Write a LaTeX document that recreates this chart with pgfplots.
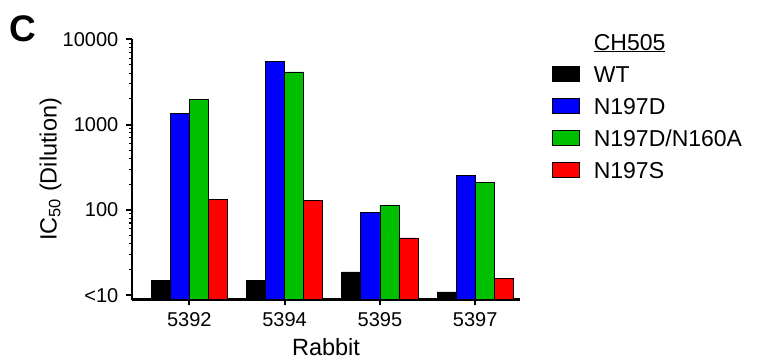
\documentclass[border=0pt]{standalone}
\usepackage{fontspec}
\setmainfont{Liberation Sans}
\usepackage{pgfplots}
\pgfplotsset{compat=1.18}
\definecolor{cblue}{RGB}{0,0,255}
\definecolor{cgreen}{RGB}{0,192,0}
\definecolor{cred}{RGB}{255,0,0}
\pgfplotsset{boxlegend/.style={legend image code/.code={\draw[##1] (0pt,-7.5pt) rectangle (27.3pt,7.5pt);}}}
\begin{document}
\begin{tikzpicture}
\path[use as bounding box] (0,0) rectangle (759pt,-360pt);
\node[anchor=base west, inner sep=0pt, font=\fontsize{37}{37}\selectfont\bfseries] at (9pt,-41pt) {C};
\begin{axis}[
  at={(132pt,-299.5pt)}, anchor=south west,
  scale only axis, width=388pt, height=260.3pt,
  xmin=-0.601, xmax=3.47,
  ymode=log, ymin=8.9, ymax=10000, log origin y=infty,
  axis lines*=left,
  axis line style={-, line width=2.4pt, black},
  tick align=outside,
  major tick length=6pt, minor tick length=3.5pt,
  every major tick/.append style={line width=2pt, black},
  every minor tick/.append style={line width=1.2pt, black},
  ytick={10,100,1000,10000},
  yticklabels={\mbox{<10},\mbox{100},\mbox{1000},\mbox{10000}},
  minor ytick={20,30,40,50,60,70,80,90,200,300,400,500,600,700,800,900,2000,3000,4000,5000,6000,7000,8000,9000},
  xtick={0,1,2,3},
  xticklabels={\mbox{5392},\mbox{5394},\mbox{5395},\mbox{5397}},
  yticklabel style={anchor=east, inner sep=0pt, xshift=-7.5pt, font=\fontsize{20}{20}\selectfont},
  xticklabel style={anchor=base, inner sep=0pt, yshift=-21pt, font=\fontsize{20}{20}\selectfont},
  every axis y label/.style={at={(axis description cs:-0.194,0.5)}, rotate=90, anchor=base, inner sep=0pt, font=\fontsize{23.5}{23.5}\selectfont},
  every axis x label/.style={at={(axis description cs:0.5,-0.2136)}, anchor=base, inner sep=0pt, font=\fontsize{23.5}{23.5}\selectfont},
  ylabel={IC\textsubscript{50} (Dilution)},
  xlabel={Rabbit},
  legend cell align=left,
  legend style={at={(1.0817,1.0219)}, anchor=north west, draw=none, fill=none,
    inner sep=0pt, outer sep=0pt, row sep=15.6pt,
    font=\fontsize{23}{23}\selectfont,
    nodes={inner sep=0pt, text height=16.5pt, text depth=0pt},
    /tikz/every odd column/.append style={column sep=14pt}},
]
\addlegendimage{empty legend}
\addlegendentry{\underline{CH505}}
\addplot[ybar, bar width=0.2, bar shift=-0.3, fill=black, draw=black, line width=0.8pt, boxlegend]
  coordinates {(0,14.9) (1,14.9) (2,18.7) (3,10.9)};
\addlegendentry{WT}
\addplot[ybar, bar width=0.2, bar shift=-0.1, fill=cblue, draw=black, line width=0.8pt, boxlegend]
  coordinates {(0,1339) (1,5495) (2,92.5) (3,254)};
\addlegendentry{N197D}
\addplot[ybar, bar width=0.2, bar shift=0.1, fill=cgreen, draw=black, line width=0.8pt, boxlegend]
  coordinates {(0,1949) (1,4128) (2,112.6) (3,210.6)};
\addlegendentry{N197D/N160A}
\addplot[ybar, bar width=0.2, bar shift=0.3, fill=cred, draw=black, line width=0.8pt, boxlegend]
  coordinates {(0,133.5) (1,127.6) (2,46.9) (3,15.8)};
\addlegendentry{N197S}
\end{axis}
\end{tikzpicture}
\end{document}
